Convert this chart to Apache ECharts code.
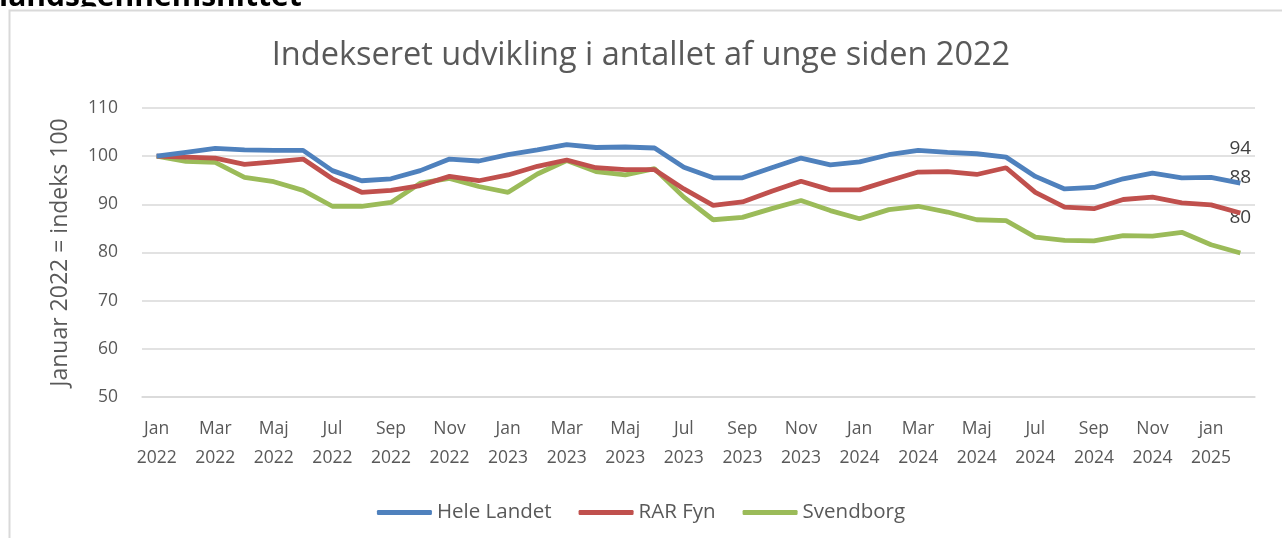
<!DOCTYPE html>
<html>
<head>
<meta charset="utf-8">
<script src="https://cdn.jsdelivr.net/npm/echarts@6/dist/echarts.min.js"></script>
<style>
html,body{margin:0;padding:0;background:#fff;}
#chart{width:1282px;height:538px;}
</style>
</head>
<body>
<div id="chart"></div>
<script>
const months = [
  "Jan\n2022","Feb\n2022","Mar\n2022","Apr\n2022","Maj\n2022","Jun\n2022","Jul\n2022","Aug\n2022","Sep\n2022","Okt\n2022","Nov\n2022","Dec\n2022",
  "Jan\n2023","Feb\n2023","Mar\n2023","Apr\n2023","Maj\n2023","Jun\n2023","Jul\n2023","Aug\n2023","Sep\n2023","Okt\n2023","Nov\n2023","Dec\n2023",
  "Jan\n2024","Feb\n2024","Mar\n2024","Apr\n2024","Maj\n2024","Jun\n2024","Jul\n2024","Aug\n2024","Sep\n2024","Okt\n2024","Nov\n2024","Dec\n2024",
  "jan\n2025","Feb\n2025"
];
const heleLandet = [
  100.0,100.8,101.6,101.3,101.2,101.2,97.0,94.9,95.3,97.0,99.4,99.0,
  100.3,101.3,102.4,101.8,101.9,101.7,97.7,95.5,95.5,97.6,99.6,98.2,
  98.8,100.3,101.2,100.8,100.5,99.8,95.8,93.2,93.5,95.3,96.5,95.5,
  95.6,94.4
];
const rarFyn = [
  100.0,99.8,99.6,98.3,98.8,99.4,95.3,92.5,92.9,93.9,95.8,94.9,
  96.1,97.9,99.2,97.6,97.2,97.2,93.2,89.8,90.5,92.7,94.8,93.0,
  93.0,94.9,96.7,96.8,96.2,97.6,92.5,89.4,89.1,91.0,91.5,90.3,
  89.9,88.2
];
const svendborg = [
  100.0,98.9,98.7,95.6,94.7,92.9,89.6,89.6,90.4,94.4,95.4,93.7,
  92.5,96.3,99.1,96.8,96.1,97.4,91.5,86.8,87.3,89.1,90.8,88.7,
  87.0,88.9,89.6,88.4,86.8,86.6,83.2,82.5,82.4,83.5,83.4,84.2,
  81.6,79.9
];
const seriesNames = ["Hele Landet","RAR Fyn","Svendborg"];
const seriesColors = ["#4F81BD","#C0504D","#9BBB59"];
const yTicks = {min:50, max:110, interval:10};

const FONT = "Open Sans";
const chart = echarts.init(document.getElementById('chart'), null, {renderer:'canvas'});
const option = {
  backgroundColor:'#ffffff',
  animation:false,
  title:{
    text:'Indekseret udvikling i antallet af unge siden 2022',
    left:'center', top:34,
    textStyle:{fontFamily:FONT, fontWeight:'normal', fontSize:32.5, color:'#595959'}
  },
  graphic:[
    {type:'text', left:-1, top:-18, z:1, style:{text:'landsgennemsnittet', font:'bold 30px "Open Sans"', fill:'#000'}},
    {type:'rect', z:2, shape:{x:0,y:6.5,width:400,height:8}, style:{fill:'#fff'}, silent:true},
    {type:'rect', z:3, shape:{x:9.5,y:10.5,width:1300,height:600}, style:{fill:null, stroke:'#D9D9D9', lineWidth:2}, silent:true}
  ],
  grid:{left:142, right:27, top:108, bottom:141},
  legend:{
    bottom:10, left:'center',
    icon:'roundRect', itemWidth:55, itemHeight:5, itemGap:27,
    textStyle:{fontFamily:FONT, fontSize:20.5, color:'#595959'},
    data:seriesNames
  },
  xAxis:{
    type:'category', data:months, boundaryGap:true,
    axisLine:{show:true, lineStyle:{color:'#D9D9D9', width:1.5}},
    axisTick:{show:false},
    axisLabel:{interval:1, margin:18, lineHeight:29, fontFamily:FONT, fontSize:17.5, color:'#595959'}
  },
  yAxis:{
    type:'value', min:yTicks.min, max:yTicks.max, interval:yTicks.interval,
    name:'Januar 2022 = indeks 100', nameLocation:'middle', nameGap:70,
    nameTextStyle:{fontFamily:FONT, fontSize:23, color:'#595959'},
    axisLine:{show:false}, axisTick:{show:false},
    axisLabel:{margin:24, fontFamily:FONT, fontSize:17.5, color:'#595959'},
    splitLine:{lineStyle:{color:'#D9D9D9', width:1.5}}
  },
  series:[heleLandet, rarFyn, svendborg].map((arr,k)=>({
    name:seriesNames[k], type:'line', data:arr,
    showSymbol:false, symbol:'none',
    lineStyle:{color:seriesColors[k], width:4.8},
    itemStyle:{color:seriesColors[k]},
    endLabel:{
      show:true, distance:0, offset:[0,-35], align:'center', verticalAlign:'middle',
      formatter:(p)=>String(Math.round(p.value)),
      color:'#404040', fontSize:19, fontFamily:FONT
    },
    z: 3 + (2-k)
  }))
};
chart.setOption(option);
</script>
</body>
</html>
